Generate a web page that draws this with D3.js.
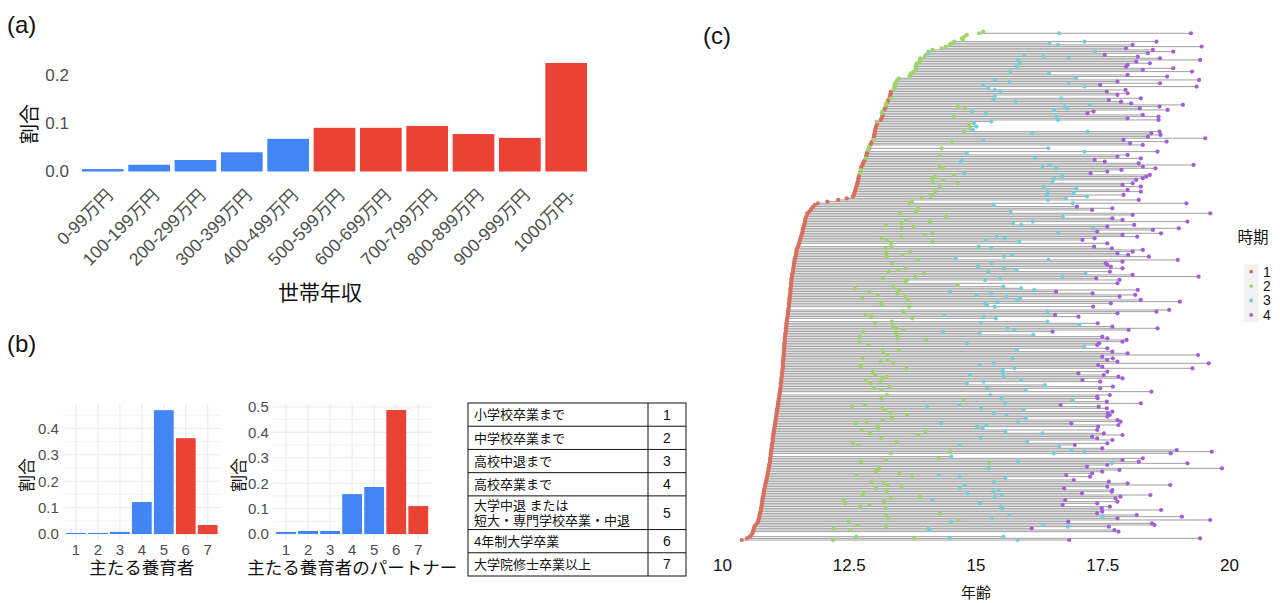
<!DOCTYPE html>
<html><head><meta charset="utf-8">
<script src="https://cdn.jsdelivr.net/npm/d3@7"></script>
<style>
body{margin:0;background:#fff}
svg text{font-family:"Liberation Sans","Noto Sans CJK JP",sans-serif}
</style>
</head><body>
<svg id="chart" width="1280" height="603"></svg>
<script>
// ---------- data ----------
const incomeLabels = ["0-99万円","100-199万円","200-299万円","300-399万円","400-499万円","500-599万円","600-699万円","700-799万円","800-899万円","900-999万円","1000万円-"];
const incomeShare = [0.005,0.014,0.024,0.040,0.068,0.091,0.091,0.095,0.078,0.070,0.226];
const incomeTicks = [0,0.1,0.2];

const eduCodes = ["1","2","3","4","5","6","7"];
const caregiverShare = [0.004,0.004,0.008,0.121,0.469,0.363,0.034];
const partnerShare = [0.008,0.012,0.012,0.157,0.185,0.488,0.110];
const caregiverTicks = [0,0.1,0.2,0.3,0.4];
const partnerTicks = [0,0.1,0.2,0.3,0.4,0.5];
const eduLabels = ["小学校卒業まで","中学校卒業まで","高校中退まで","高校卒業まで","大学中退 または\n短大・専門学校卒業・中退","4年制大学卒業","大学院修士卒業以上"];

const ageTicks = [10,12.5,15,17.5,20];
const periods = ["1","2","3","4"];
// ages at each period, one entry per subject (sorted by first age)
const age1 = [
10.39,10.49,10.55,10.58,10.60,10.61,10.62,10.63,10.64,10.66,
10.69,10.71,10.72,10.73,10.74,10.74,10.75,10.76,10.77,10.77,
10.78,10.78,10.79,10.79,10.80,10.80,10.81,10.82,10.82,10.83,
10.83,10.84,10.85,10.85,10.86,10.87,10.88,10.88,10.89,10.90,
10.90,10.91,10.92,10.92,10.93,10.93,10.94,10.95,10.95,10.95,
10.96,10.96,10.96,10.97,10.97,10.98,10.98,10.98,10.99,11.00,
11.00,11.00,11.01,11.01,11.02,11.02,11.03,11.03,11.04,11.04,
11.05,11.05,11.06,11.06,11.07,11.07,11.08,11.08,11.09,11.09,
11.10,11.10,11.11,11.11,11.12,11.12,11.13,11.13,11.14,11.14,
11.15,11.15,11.16,11.16,11.16,11.17,11.17,11.17,11.18,11.18,
11.18,11.19,11.19,11.20,11.20,11.20,11.20,11.20,11.21,11.21,
11.21,11.22,11.22,11.22,11.22,11.23,11.23,11.23,11.23,11.24,
11.24,11.24,11.24,11.25,11.25,11.26,11.26,11.26,11.27,11.27,
11.27,11.28,11.28,11.29,11.29,11.30,11.30,11.30,11.31,11.31,
11.32,11.32,11.32,11.33,11.33,11.33,11.34,11.34,11.35,11.35,
11.35,11.35,11.36,11.36,11.36,11.37,11.37,11.37,11.38,11.38,
11.39,11.40,11.40,11.41,11.41,11.42,11.42,11.43,11.43,11.44,
11.45,11.46,11.46,11.47,11.47,11.48,11.50,11.51,11.52,11.53,
11.54,11.55,11.56,11.57,11.58,11.59,11.59,11.60,11.61,11.62,
11.63,11.64,11.64,11.65,11.66,11.68,11.68,11.72,11.75,11.77,
11.80,11.83,11.89,12.08,12.29,12.46,12.58,12.60,12.61,12.62,
12.63,12.64,12.65,12.66,12.67,12.68,12.69,12.69,12.70,12.71,
null,12.73,null,12.74,12.75,12.77,12.78,12.80,12.82,null,
12.84,12.85,12.86,12.87,null,12.90,null,12.93,12.94,12.96,
null,12.99,13.00,13.00,13.01,13.02,13.02,13.03,13.04,13.05,
13.06,null,13.13,13.15,13.16,13.17,null,null,13.20,13.22,
13.23,null,null,13.27,13.28,null,13.31,13.32,13.33,13.33,
null,null,null,null,null,null,null,null,null,null,
null,null,null,null,null,null,null,null,null,null,
null,null,null,null,null,null,null,null,null,null,
null,null,null,null,null,null];
const age2 = [
12.19,13.79,12.65,null,null,null,12.53,12.20,13.24,12.68,
null,12.50,14.67,13.28,null,13.24,14.30,null,null,13.23,
12.73,12.91,12.43,13.19,12.40,13.33,13.90,12.77,12.80,13.25,
13.25,13.04,13.54,13.27,13.19,12.95,null,null,13.75,12.66,
13.50,13.03,13.05,13.10,null,null,15.27,12.74,13.24,14.27,
null,null,13.33,14.50,null,null,null,12.69,12.58,13.44,
null,13.14,null,13.87,12.92,14.01,12.75,13.08,13.07,null,
12.64,12.85,13.17,13.35,null,13.65,13.32,null,13.22,13.16,
12.57,12.82,null,null,14.76,13.14,null,13.25,null,null,
13.14,13.00,13.30,null,12.93,13.12,12.83,13.17,13.25,13.02,
null,12.97,null,13.64,12.74,12.74,13.38,13.12,13.27,12.77,
null,13.26,null,13.17,13.49,null,null,12.89,null,12.71,
14.02,13.46,12.71,13.45,13.42,12.78,13.58,13.44,13.37,null,
13.02,13.35,null,13.75,12.94,12.83,null,13.58,null,null,
13.69,13.15,13.14,null,13.67,12.77,13.62,13.08,13.46,12.90,
13.49,12.62,13.38,14.65,null,13.62,13.65,13.17,13.81,null,
13.98,13.29,13.48,13.62,null,null,13.35,null,13.86,null,
13.25,13.56,13.24,13.72,null,13.23,13.35,null,13.33,14.15,
13.25,13.15,13.54,14.00,14.15,null,null,13.54,13.78,13.23,
13.54,14.10,13.63,null,14.42,null,13.51,13.82,null,13.87,
null,null,13.70,13.75,null,13.94,14.12,14.15,null,14.20,
null,null,14.29,null,14.65,14.16,14.37,14.14,14.20,14.57,
12.73,null,12.74,14.36,14.29,null,null,null,null,12.84,
null,14.29,null,null,12.88,14.33,12.90,null,null,14.53,
13.00,null,null,null,null,14.77,null,14.90,null,14.88,
null,13.05,null,null,14.57,null,13.15,13.16,null,14.79,
14.65,13.23,13.24,null,null,13.33,null,null,null,null,
13.40,13.39,13.41,13.40,13.42,13.44,13.46,13.49,13.70,13.71,
13.73,13.78,13.83,13.82,13.82,13.83,13.84,13.90,13.90,13.91,
14.00,14.02,null,14.07,14.15,14.33,14.41,14.49,14.52,14.58,
14.75,14.73,14.78,14.83,15.07,15.15];
const age3 = [
15.83,14.49,15.55,null,null,null,14.09,14.07,16.82,16.34,
null,14.52,null,15.32,17.51,15.67,null,null,null,15.53,
15.50,null,15.08,null,14.15,null,15.38,15.52,14.84,15.35,
15.46,14.69,null,14.79,null,15.36,null,15.59,14.69,14.28,
null,null,null,15.26,null,null,17.69,15.84,null,null,
14.52,null,16.54,17.15,16.89,null,16.65,14.69,null,16.02,
null,15.10,null,null,16.32,15.59,null,15.14,15.03,15.22,
14.32,15.84,null,15.99,null,15.61,15.36,null,15.95,15.11,
14.05,14.68,15.59,null,16.92,15.51,null,15.29,null,null,
15.99,15.23,null,16.37,14.83,15.16,15.90,null,15.56,14.89,
15.54,null,15.54,15.77,null,15.08,15.36,null,null,15.73,
null,null,null,null,15.82,null,17.14,null,14.83,null,
null,null,null,16.14,15.08,14.36,15.77,15.63,null,17.05,
15.11,16.42,null,15.40,15.16,14.39,null,16.42,null,null,
15.38,15.23,15.19,15.43,15.82,15.88,15.61,15.02,15.31,14.50,
16.16,15.90,15.55,null,null,null,15.19,15.48,16.71,null,
17.17,15.25,15.81,15.56,15.05,null,15.32,null,16.44,14.61,
15.56,15.72,null,null,null,15.31,15.06,null,null,15.86,
15.20,15.58,15.42,null,16.63,null,null,17.32,null,15.90,
15.74,16.13,null,null,16.72,null,null,15.69,null,null,
null,15.36,16.92,null,16.43,16.78,17.20,16.41,16.94,16.42,
null,16.99,16.34,null,null,16.52,null,16.55,16.71,16.71,
14.78,null,null,16.59,16.32,16.46,null,14.71,14.73,16.17,
null,null,14.83,17.15,null,16.44,null,null,null,null,
15.15,null,null,null,16.12,17.21,14.95,null,15.02,null,
14.97,15.31,16.63,null,16.59,null,15.20,14.93,16.55,16.81,
16.75,17.26,null,15.79,15.35,16.69,15.38,null,null,15.49,
15.38,15.25,17.15,15.15,16.84,15.67,15.38,16.98,null,null,
16.45,15.69,null,null,15.81,null,15.87,null,15.84,16.84,
16.34,15.96,14.07,17.36,null,null,null,16.63,16.46,17.15,
null,null,null,null,16.65,null];
const age4 = [
16.85,19.43,null,null,null,17.82,17.74,16.11,17.63,18.53,
18.48,16.83,19.63,17.80,19.07,18.18,17.40,17.50,18.66,17.49,
17.65,16.72,17.40,17.80,16.77,17.76,17.86,18.45,17.10,17.69,
17.70,16.75,17.60,18.84,18.00,17.63,16.94,null,17.26,16.79,
17.30,17.50,17.84,19.86,17.20,17.60,19.18,18.22,17.90,18.30,
null,null,18.85,19.66,18.97,17.50,null,16.96,17.60,null,
17.70,17.40,17.30,17.90,17.53,null,17.40,null,17.42,17.82,
16.89,17.86,17.80,null,17.60,17.65,17.61,17.70,null,17.59,
17.43,16.68,18.26,17.59,null,17.41,17.40,17.65,null,18.47,
null,17.46,17.71,null,null,17.46,17.11,17.90,17.82,17.53,
17.03,17.60,null,19.28,17.50,17.42,19.60,17.80,17.60,17.71,
17.50,19.39,18.00,17.70,null,17.60,null,17.40,17.44,17.90,
17.98,17.60,17.50,null,null,16.52,18.02,18.59,17.70,null,
17.41,null,null,null,17.03,16.57,17.80,18.57,18.82,null,
17.32,null,17.67,19.03,18.26,null,17.84,18.15,17.31,16.59,
18.20,null,null,null,17.80,null,17.84,17.38,19.40,18.10,
null,17.65,null,17.90,17.67,17.60,17.57,17.90,18.99,null,
18.42,18.01,17.80,18.10,18.30,17.69,17.34,null,17.60,null,
17.11,17.35,18.19,17.90,18.66,17.40,18.50,19.01,17.60,18.13,
null,19.18,17.90,17.70,null,18.10,19.63,null,17.30,17.70,
17.00,null,19.16,null,18.22,null,null,17.92,null,18.26,
18.00,null,18.26,17.90,18.10,null,18.17,18.30,18.37,18.44,
17.27,17.60,17.88,18.55,18.30,19.30,18.22,17.55,17.35,18.26,
17.80,18.00,null,18.59,null,null,null,18.30,18.05,18.77,
17.92,19.53,18.40,18.65,18.47,18.63,null,null,null,null,
null,null,18.61,18.00,18.61,18.30,17.21,17.33,18.79,18.24,
18.63,19.09,18.07,17.87,17.63,18.26,null,17.80,18.00,17.59,
17.96,null,19.36,17.46,18.64,17.80,19.41,null,18.78,18.00,
null,19.27,18.30,18.90,17.97,18.00,18.44,18.17,19.43,18.64,
18.20,17.55,18.40,18.90,18.50,17.97,19.46,18.10,null,18.57,
null,null,null,null,19.25,null];

// ---------- drawing ----------
const svg = d3.select("#chart");
svg.append("rect").attr("width",1280).attr("height",603).attr("fill","#fff");
const BLUE = "#4285F4", RED = "#EA4335";
const AXIS_GREY = "#4D4D4D";
const fmt1 = d3.format(".1f");

function panelLabel(t,x,y){
  svg.append("text").attr("x",x).attr("y",y).attr("font-size",24).attr("fill","#111").text(t);
}
panelLabel("(a)",7,33);
panelLabel("(b)",7,352);
panelLabel("(c)",703,44);

// ---- (a) ----
const xa = d3.scaleBand().domain(incomeLabels).range([75,594]).paddingInner(0.1).paddingOuter(0.15);
const ya = d3.scaleLinear().domain([0,0.2]).range([171.5,75.5]);
svg.append("g").selectAll("rect").data(incomeShare).join("rect")
  .attr("x",(d,i)=>xa(incomeLabels[i])).attr("width",xa.bandwidth())
  .attr("y",d=>ya(d)).attr("height",d=>ya(0)-ya(d))
  .attr("fill",(d,i)=>i<5?BLUE:RED);
const ayA = svg.append("g").attr("transform","translate(71,0)")
  .call(d3.axisLeft(ya).tickValues(incomeTicks).tickFormat(fmt1).tickSize(0).tickPadding(2));
ayA.select(".domain").remove();
ayA.selectAll("text").attr("font-size",17).attr("fill",AXIS_GREY).attr("font-family",null);
const axA = svg.append("g").attr("transform",`translate(0,${ya(0)})`)
  .call(d3.axisBottom(xa).tickSize(0));
axA.select(".domain").remove();
axA.selectAll("text").attr("font-size",17.5).attr("fill",AXIS_GREY).attr("font-family",null)
  .attr("x",0).attr("y",0).attr("dy",0).attr("text-anchor","end")
  .attr("transform","translate(11,25) rotate(-45)");
svg.append("text").attr("x",320).attr("y",300).attr("text-anchor","middle")
  .attr("font-size",21).attr("fill","#111").text("世帯年収");
svg.append("text").attr("transform","translate(37,124) rotate(-90)").attr("text-anchor","middle")
  .attr("font-size",20).attr("fill","#111").text("割合");

// ---- (b) ----
function eduBars(values, ticks, x0, x1, pxPerUnit, yLabelX, title){
  const xb = d3.scaleBand().domain(eduCodes).range([x0,x1]).paddingInner(0.1).paddingOuter(0.15);
  const yMax = ticks[ticks.length-1];
  const yb = d3.scaleLinear().domain([0,yMax]).range([534,534-yMax*pxPerUnit]);
  const top = 404, bottom = 540;
  const g = svg.append("g");
  const minor = d3.range(0.05, yb.invert(top), 0.1);
  g.selectAll("line.mn").data(minor).join("line").attr("class","mn")
    .attr("x1",x0).attr("x2",x1).attr("y1",d=>yb(d)).attr("y2",d=>yb(d))
    .attr("stroke","#F0F0F0").attr("stroke-width",0.9);
  g.selectAll("line.mj").data(ticks).join("line").attr("class","mj")
    .attr("x1",x0).attr("x2",x1).attr("y1",d=>yb(d)).attr("y2",d=>yb(d))
    .attr("stroke","#EBEBEB").attr("stroke-width",1.1);
  g.selectAll("line.vg").data(eduCodes).join("line").attr("class","vg")
    .attr("x1",d=>xb(d)+xb.bandwidth()/2).attr("x2",d=>xb(d)+xb.bandwidth()/2)
    .attr("y1",top).attr("y2",bottom).attr("stroke","#EBEBEB").attr("stroke-width",1.1);
  g.selectAll("rect").data(values).join("rect")
    .attr("x",(d,i)=>xb(eduCodes[i])).attr("width",xb.bandwidth())
    .attr("y",d=>yb(d)).attr("height",d=>yb(0)-yb(d))
    .attr("fill",(d,i)=>i<5?BLUE:RED);
  const ay = g.append("g").attr("transform",`translate(${x0-1},0)`)
    .call(d3.axisLeft(yb).tickValues(ticks).tickFormat(fmt1).tickSize(0).tickPadding(3));
  ay.select(".domain").remove();
  ay.selectAll("text").attr("font-size",15).attr("fill",AXIS_GREY).attr("font-family",null);
  const ax = g.append("g").attr("transform",`translate(0,${bottom})`)
    .call(d3.axisBottom(xb).tickSize(0).tickPadding(4));
  ax.select(".domain").remove();
  ax.selectAll("text").attr("font-size",15).attr("fill",AXIS_GREY).attr("font-family",null);
  g.append("text").attr("transform",`translate(${yLabelX},475) rotate(-90)`).attr("text-anchor","middle")
    .attr("font-size",17).attr("fill","#111").text("割合");
  g.append("text").attr("x",(x0+x1)/2).attr("y",574).attr("text-anchor","middle")
    .attr("font-size",17.5).attr("fill","#111").text(title);
}
eduBars(caregiverShare, caregiverTicks, 62.8, 220.9, 264, 33, "主たる養育者");
eduBars(partnerShare, partnerTicks, 272.8, 431.5, 254, 245, "主たる養育者のパートナー");

// ---- table ----
const lineCounts = eduLabels.map(s=>s.split("\n").length);
const units = lineCounts.map(c=>c===1?1:1.45);
const cum = [0]; units.forEach(u=>cum.push(cum[cum.length-1]+u));
const yt = d3.scaleLinear().domain([0,cum[cum.length-1]]).range([403,576]);
const tx0 = 468, txDiv = 648, tx1 = 686;
const tg = svg.append("g");
tg.append("rect").attr("x",tx0).attr("y",yt(0)).attr("width",tx1-tx0).attr("height",yt(cum[cum.length-1])-yt(0))
  .attr("fill","none").attr("stroke","#111").attr("stroke-width",1);
tg.append("line").attr("x1",txDiv).attr("x2",txDiv).attr("y1",yt(0)).attr("y2",yt(cum[cum.length-1]))
  .attr("stroke","#111").attr("stroke-width",1);
tg.selectAll("line.rw").data(cum.slice(1,-1)).join("line").attr("class","rw")
  .attr("x1",tx0).attr("x2",tx1).attr("y1",d=>yt(d)).attr("y2",d=>yt(d))
  .attr("stroke","#111").attr("stroke-width",1);
eduLabels.forEach((lab,i)=>{
  const mid = (yt(cum[i])+yt(cum[i+1]))/2;
  const parts = lab.split("\n");
  parts.forEach((p,j)=>{
    tg.append("text").attr("x",474).attr("y",mid + (j-(parts.length-1)/2)*15 + 4.7)
      .attr("font-size",13).attr("fill","#111").text(p);
  });
  tg.append("text").attr("x",(txDiv+tx1)/2).attr("y",mid+5).attr("text-anchor","middle")
    .attr("font-size",14).attr("fill","#111").text(eduCodes[i]);
});

// ---- (c) ----
const colors = ["#D8705F","#9DD56A","#73CFDA","#A35DD9"];
const ages = [age1,age2,age3,age4];
const nSubj = age1.length;
const xc = d3.scaleLinear().domain([10,20]).range([722,1229]);
const yc = d3.scaleLinear().domain([0,305]).range([540,31.6]);
const cg = svg.append("g");
const segs = d3.range(nSubj).map(i=>{
  const v = ages.map(a=>a[i]).filter(x=>x!=null);
  return {i, lo:d3.min(v), hi:d3.max(v), n:v.length};
}).filter(s=>s.n>1);
cg.selectAll("line.seg").data(segs).join("line").attr("class","seg")
  .attr("x1",d=>xc(d.lo)).attr("x2",d=>xc(d.hi))
  .attr("y1",d=>yc(d.i)).attr("y2",d=>yc(d.i))
  .attr("stroke","#9f9f9f").attr("stroke-width",1);
ages.forEach((arr,k)=>{
  const pts = arr.map((v,i)=>({v,i})).filter(d=>d.v!=null);
  cg.append("g").selectAll("circle").data(pts).join("circle")
    .attr("cx",d=>xc(d.v)).attr("cy",d=>yc(d.i)).attr("r",2.1)
    .attr("fill",colors[k]);
});
const axC = svg.append("g").attr("transform","translate(0,552)")
  .call(d3.axisBottom(xc).tickValues(ageTicks).tickFormat(d3.format("")).tickSize(0).tickPadding(7));
axC.select(".domain").remove();
axC.selectAll("text").attr("font-size",17).attr("fill","#111").attr("font-family",null);
svg.append("text").attr("x",976).attr("y",598).attr("text-anchor","middle")
  .attr("font-size",15).attr("fill","#111").text("年齢");

// legend
const lg = svg.append("g");
lg.append("text").attr("x",1253).attr("y",243).attr("text-anchor","middle")
  .attr("font-size",15.5).attr("fill","#111").text("時期");
const yl = d3.scalePoint().domain(periods).range([271.5,314.7]);
periods.forEach((p,k)=>{
  lg.append("rect").attr("x",1244).attr("y",yl(p)-7).attr("width",14.4).attr("height",14.4).attr("fill","#F2F2F2");
  lg.append("circle").attr("cx",1251.2).attr("cy",yl(p)+0.2).attr("r",1.9).attr("fill",colors[k]);
  lg.append("text").attr("x",1263).attr("y",yl(p)+5).attr("font-size",14).attr("fill","#111").text(p);
});
</script>
</body></html>
